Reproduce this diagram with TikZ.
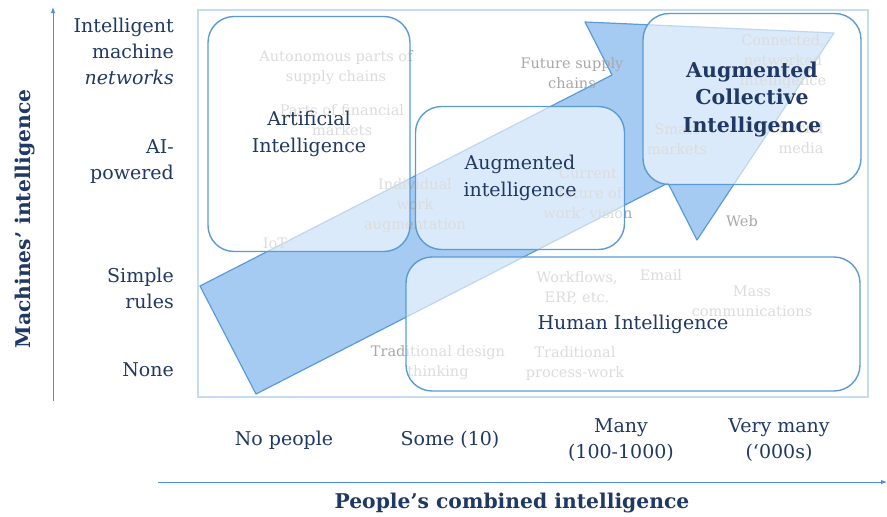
\documentclass[tikz,border=0pt]{standalone}
\usepackage{fontspec}
\setmainfont{DejaVu Serif}
\usetikzlibrary{arrows.meta}
\definecolor{navy}{HTML}{1F3864}
\definecolor{edgeblue}{HTML}{5B9BD5}
\definecolor{arrowfill}{HTML}{A6CBF3}
\definecolor{framecol}{HTML}{C5DCF2}
\definecolor{ghost}{HTML}{A8A8A8}
\definecolor{axiscol}{HTML}{4A8FD8}
\begin{document}
\begin{tikzpicture}[x=1pt, y=-1pt,
    zone/.style={draw=edgeblue, line width=1.4pt, rounded corners=26pt, fill=white, fill opacity=0.6, text opacity=1, text=navy, align=center, font=\fontsize{19}{27}\selectfont},
    ghosttext/.style={text=ghost, align=center, font=\fontsize{14.5}{20}\selectfont, inner sep=0pt},
    lbl/.style={text=navy, align=center, font=\fontsize{19}{26}\selectfont, inner sep=0pt},
    axis/.style={draw=axiscol, line width=1pt, -{Latex[length=6pt, width=4.5pt]}},
    title/.style={text=navy, font=\bfseries\fontsize{20.3}{22}\selectfont, inner sep=0pt}]
	\useasboundingbox (0,0) rectangle (887,517);

	% frame and big arrow
	\draw[framecol, line width=2pt] (198,10) rectangle (868,397);
	\draw[draw=edgeblue, fill=arrowfill, line width=1.2pt, line join=round]
		(200,286) -- (612,75) -- (585,22) -- (834,33) -- (697,240) -- (668,183) -- (256,394) -- cycle;

	% examples
	\node[ghosttext] (auto) at (336,68) {Autonomous parts of\\supply chains};
	\node[ghosttext] (fin) at (342,120) {Parts of financial\\markets};
	\node[ghosttext] (indiv) at (415,206) {Individual\\work\\augmentation};
	\node[ghosttext] (iot) at (275,243) {IoT};
	\node[ghosttext] (future) at (572,73) {Future supply\\chains};
	\node[ghosttext] (fow) at (588,193) {Current\\‘future of\\work’ vision};
	\node[ghosttext] (smart) at (677,139) {Smart\\markets};
	\node[ghosttext] (conn) at (783,62) {Connected,\\networked\\intelligence};
	\node[ghosttext] (social) at (801,138) {Social\\media};
	\node[ghosttext] (web) at (742,221) {Web};
	\node[ghosttext] (wf) at (577,288) {Workflows,\\ERP, etc.};
	\node[ghosttext] (email) at (661,275) {Email};
	\node[ghosttext] (mass) at (752,301) {Mass\\communications};
	\node[ghosttext] (tdesign) at (438,363) {Traditional design\\thinking};
	\node[ghosttext] (tproc) at (575,363) {Traditional\\process-work};

	% zones
	\node[zone, minimum width=202, minimum height=235] (ai) at (309,134) {Artificial\\Intelligence};
	\node[zone, minimum width=209, minimum height=143] (aug) at (520,178) {Augmented\\intelligence};
	\node[zone, minimum width=218, minimum height=171, font=\bfseries\fontsize{20.5}{27.5}\selectfont] (aci) at (752,99) {Augmented\\Collective\\Intelligence};
	\node[zone, minimum width=454, minimum height=134] (human) at (633,324) {Human Intelligence};

	% axes
	\coordinate (ybot) at (53,401);
	\coordinate (ytop) at (53,7);
	\coordinate (xleft) at (158,482);
	\coordinate (xright) at (887,482);
	\draw[axis] (ybot) -- (ytop);
	\draw[axis] (xleft) -- (xright);

	\node[lbl, anchor=east, align=right] (ynet) at (174,51) {Intelligent\\machine\\\textit{networks}};
	\node[lbl, anchor=east, align=right] (yai) at (174,162) {AI-\\powered};
	\node[lbl, anchor=east, align=right] (yrules) at (174,288) {Simple\\rules};
	\node[lbl, anchor=east, align=right] (ynone) at (174,370) {None};

	\node[lbl] (xnone) at (284,440) {No people};
	\node[lbl] (xsome) at (450,440) {Some (10)};
	\node[lbl] (xmany) at (621,440) {Many\\(100-1000)};
	\node[lbl] (xvery) at (779,440) {Very many\\(‘000s)};

	\node[title, rotate=90] (ytitle) at (25,219) {Machines’ intelligence};
	\node[title] (xtitle) at (512,503) {People’s combined intelligence};
\end{tikzpicture}
\end{document}
